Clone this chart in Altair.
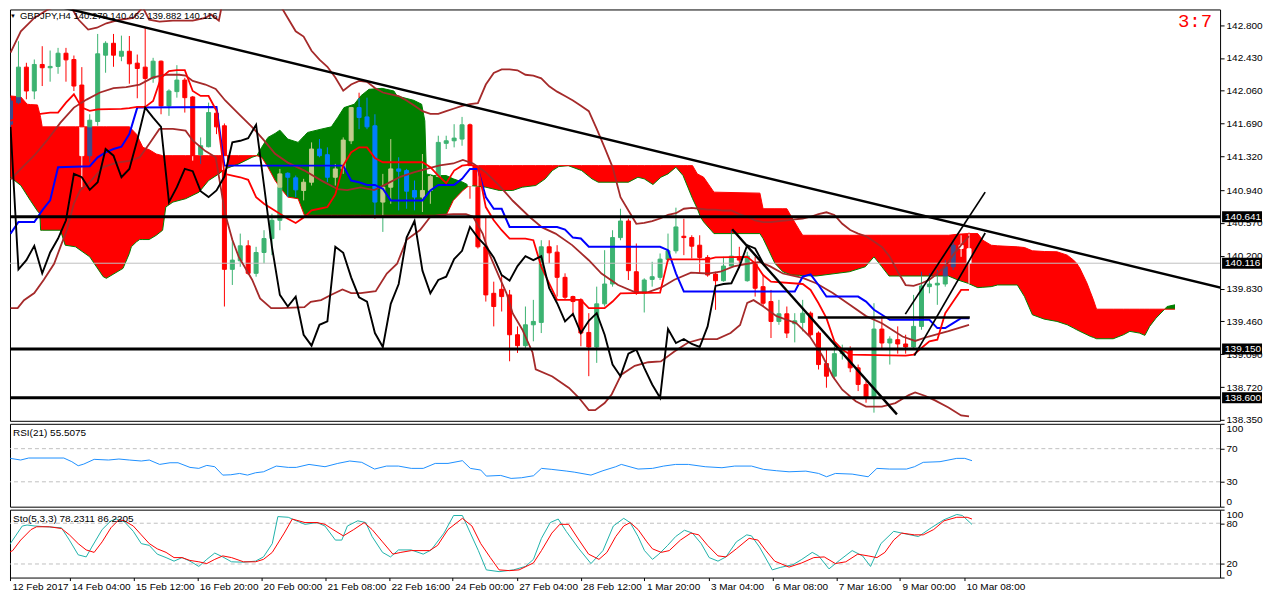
import altair as alt
import numpy as np
import pandas as pd

# ---------------- data ----------------
symbol = "GBPJPY,H4"
ratio_text = "3:7"
date_labels = ["12 Feb 2017", "14 Feb 04:00", "15 Feb 12:00", "16 Feb 20:00", "20 Feb 00:00",
               "21 Feb 08:00", "22 Feb 16:00", "24 Feb 00:00", "27 Feb 04:00", "28 Feb 12:00",
               "1 Mar 20:00", "3 Mar 04:00", "6 Mar 08:00", "7 Mar 16:00", "9 Mar 00:00", "10 Mar 08:00"]
price_ticks = [138.35, 138.72, 139.09, 139.46, 139.83, 140.20, 140.57, 140.94,
               141.32, 141.69, 142.06, 142.43, 142.80]
rsi_ticks = [0, 30, 70, 100]
rsi_levels = [30, 70]
sto_ticks = [0, 20, 80, 100]
sto_levels = [20, 80]
levels = [140.641, 139.150, 138.600]

opens = [141.683,141.926,142.326,142.057,142.356,142.319,142.334,142.483,142.412,142.124,
         141.328,141.713,142.461,142.595,142.449,142.505,142.371,142.326,142.199,142.393,
         141.889,142.050,142.180,141.990,141.339,141.429,141.807,141.665,140.047,140.144,
         140.312,140.002,140.237,140.394,140.600,141.130,141.078,140.936,141.029,141.403,
         141.339,141.085,141.179,141.496,141.870,141.765,141.665,140.805,140.973,141.179,
         141.160,140.936,140.861,140.936,141.093,141.467,141.496,141.515,141.676,140.973,
         140.301,139.777,139.822,139.759,139.310,139.187,139.422,139.449,140.301,140.241,
         139.957,139.740,139.703,139.336,139.172,139.658,139.882,140.405,140.592,140.020,
         139.777,139.934,139.957,140.159,140.256,140.420,140.405,140.319,140.181,139.994,
         139.919,140.084,140.188,139.919,140.114,139.852,139.684,139.460,139.546,139.434,
         139.449,139.553,139.329,138.985,138.843,139.097,139.142,138.937,138.750,138.600,
         139.374,139.217,139.254,139.206,139.172,139.404,139.852,139.871,139.882,140.076,
         140.319,140.279]
highs = [141.982,142.618,142.375,142.412,142.562,142.513,142.543,142.543,142.457,142.326,
         141.795,142.700,142.618,142.700,142.681,142.677,142.468,142.767,142.431,142.401,
         142.076,142.348,142.206,142.001,141.534,141.926,141.878,141.691,140.394,140.450,
         140.375,140.301,140.488,140.674,141.179,141.141,141.104,141.067,141.478,141.515,
         141.422,141.235,141.534,141.878,142.038,141.982,141.795,141.123,141.515,141.310,
         141.179,141.048,141.347,141.123,141.553,141.553,141.683,141.765,141.690,141.216,
         140.637,139.908,139.983,139.815,139.404,139.628,139.703,140.375,140.375,140.319,
         140.002,139.750,139.721,139.553,139.852,140.263,140.488,140.730,140.618,140.338,
         139.946,140.132,140.226,140.450,140.742,140.618,140.431,140.431,140.207,140.020,
         140.188,140.488,140.301,140.245,140.188,139.983,139.815,139.703,139.628,139.553,
         139.703,139.572,139.348,139.142,139.180,139.198,139.180,138.974,138.787,139.665,
         139.516,139.292,139.404,139.310,139.759,140.020,140.002,140.039,140.151,140.375,
         140.431,140.462]
lows = [141.646,141.908,141.964,141.964,142.113,142.162,142.251,142.162,142.057,140.973,
        141.254,141.665,142.263,142.330,142.393,142.139,141.975,141.889,142.150,141.795,
        141.777,141.982,141.814,141.272,141.235,141.422,141.571,139.628,139.871,140.076,
        139.983,139.964,140.114,140.207,140.488,140.861,140.861,140.824,140.992,141.310,
        141.029,140.992,141.123,141.459,141.627,141.627,140.618,140.469,140.786,140.712,
        140.730,140.712,140.693,140.786,141.085,141.403,141.422,141.440,140.843,140.282,
        139.684,139.404,139.572,139.011,139.105,139.142,139.236,139.329,140.114,139.740,
        139.703,139.516,139.180,138.843,138.993,139.628,139.852,140.375,139.927,139.759,
        139.561,139.852,139.927,140.132,140.226,140.207,140.170,140.002,139.964,139.591,
        139.908,140.076,140.114,139.908,139.740,139.628,139.273,139.422,139.273,139.224,
        139.348,139.292,138.918,138.713,138.806,139.030,138.888,138.675,138.544,138.432,
        139.161,138.974,139.097,139.097,139.142,139.366,139.777,139.647,139.852,140.039,
        140.188,139.882]
closes = [141.945,142.326,142.057,142.356,142.319,142.334,142.483,142.408,142.113,141.328,
          141.728,142.476,142.595,142.461,142.505,142.363,142.311,142.199,142.393,141.889,
          142.057,142.180,141.982,141.328,141.440,141.814,141.653,140.047,140.151,140.312,
          140.002,140.237,140.394,140.600,141.123,141.085,140.943,141.029,141.403,141.328,
          141.085,141.179,141.504,141.870,141.758,141.653,140.805,140.973,141.179,141.153,
          140.928,140.861,140.936,141.093,141.478,141.496,141.526,141.676,140.992,140.301,
          139.759,139.628,139.740,139.310,139.187,139.422,139.460,140.301,140.233,139.957,
          139.733,139.684,139.329,139.172,139.658,139.882,140.405,140.592,140.032,139.777,
          139.927,139.964,140.162,140.256,140.525,140.405,140.308,140.181,139.983,139.919,
          140.084,140.196,140.151,140.196,139.834,139.665,139.460,139.546,139.329,139.467,
          139.553,139.310,138.974,138.843,139.097,139.142,138.937,138.750,138.600,139.374,
          139.217,139.262,139.206,139.172,139.404,139.860,139.882,139.890,140.076,140.319,
          140.282,140.116]

# Ichimoku cloud: (bar, senkou A, senkou B)
cloud = [(0,141.085,142.001),(1.3,140.992,141.990),(2.1,140.880,141.908),(2.5,140.824,141.904),
         (3.4,140.704,141.900),(3.7,140.674,141.795),(3.8,140.488,141.758),(4,140.488,141.653),
         (6.3,140.488,141.653),(6.9,140.319,141.653),(8.2,140.301,141.653),(10,140.188,141.653),
         (11.7,139.964,141.653),(12.1,139.946,141.653),(14.2,140.058,141.653),(15,140.226,141.653),
         (15.25,140.301,141.631),(15.9,140.357,141.571),(16.3,140.383,141.496),(16.7,140.383,141.422),
         (17.5,140.383,141.396),(18.4,140.431,141.347),(19.2,140.488,141.328),(19.6,140.749,141.328),
         (20.5,140.805,141.328),(22.1,140.843,141.328),(23.8,140.917,141.328),(25,141.048,141.328),
         (26.3,141.123,141.328),(27.1,141.179,141.328),(28.8,141.235,141.328),(30.5,141.310,141.328),
         (31.1,141.328,141.328),(31.7,141.422,141.310),(32.5,141.534,141.198),(33.4,141.579,141.048),
         (34,141.616,140.973),(35,141.515,140.861),(36.3,141.478,140.843),(37.1,141.553,140.656),
         (37.5,141.590,140.656),(39.2,141.627,140.656),(40.5,141.653,140.656),(41.3,141.758,140.656),
         (42.1,141.870,140.656),(43.4,141.908,140.656),(44.2,142.001,140.656),(45.25,142.076,140.656),
         (46.9,142.087,140.656),(48.4,142.057,140.656),(48.8,142.001,140.656),(50.9,141.952,140.656),
         (51.9,141.908,140.656),(52.3,141.721,140.656),(52.5,141.123,140.656),(53.4,141.104,140.656),
         (55,141.104,140.656),(55.9,141.067,140.824),(57.1,141.029,140.936),(57.9,140.992,140.992),
         (58,140.992,141.216),(60,140.973,141.216),(61.7,140.936,141.216),(63.4,140.936,141.216),
         (64.6,140.973,141.216),(66.3,140.992,141.216),(67.5,141.067,141.216),(68.4,141.160,141.216),
         (69.2,141.205,141.216),(70.4,141.216,141.216),(72.1,141.160,141.216),(73.4,141.067,141.216),
         (74.2,141.029,141.216),(78,141.029,141.216),(79.2,141.085,141.216),(80,141.067,141.216),
         (81.1,141.003,141.216),(82.1,141.085,141.216),(83,141.123,141.216),(84,141.198,141.216),
         (84.9,141.104,141.216),(85.5,140.973,141.216),(86.1,140.843,141.216),(86.7,140.730,141.123),
         (87.1,140.637,141.104),(87.5,140.581,141.085),(88.8,140.450,140.917),(94.6,140.450,140.906),
         (95,140.394,140.730),(95.5,140.301,140.730),(96.5,140.114,140.730),(97.5,140.020,140.730),
         (98,140.002,140.730),(98.6,139.983,140.637),(99.6,139.979,140.488),(100,139.976,140.431),
         (101.7,139.972,140.431),(105.9,140.020,140.431),(107.9,140.076,140.431),(109,140.188,140.431),
         (110,140.076,140.431),(110.9,139.972,140.431),(118.4,139.972,140.431),(119.6,139.927,140.443),
         (120.85,139.890,140.450),(122.1,139.841,140.450),(122.75,139.845,140.375),(123.8,139.852,140.319),
         (124.6,139.871,140.312),(127.1,139.871,140.301),(128,139.740,140.293),(129,139.535,140.256),
         (130.5,139.486,140.248),(132.1,139.460,140.245),(133.4,139.422,140.207),(134.2,139.385,140.151),
         (134.6,139.366,140.114),(135,139.348,140.058),(135.9,139.310,139.890),(136.3,139.292,139.796),
         (136.7,139.280,139.703),(137.1,139.265,139.598),(139.2,139.265,139.598),(140.5,139.310,139.598),
         (141.3,139.348,139.598),(142.5,139.329,139.598),(143.2,139.303,139.598),(143.8,139.404,139.598),
         (144.6,139.497,139.598),(145.7,139.598,139.598),(146,139.628,139.598),(147,139.647,139.598)]

kijun = [(0,140.450),(1,140.581),(3,140.581),(4,140.712),(5,140.824),(6,141.198),(10,141.209),
         (11,141.310),(12,141.366),(13,141.403),(14,141.429),(15,141.571),(16,141.870),(26,141.878),
         (27,141.216),(42,141.216),(43,141.048),(44,141.029),(45,140.999),(46,140.999),(47,140.955),
         (48,140.824),(52,140.824),(53,140.936),(54,140.999),(56,140.999),(57,141.067),(58,141.179),
         (59,141.179),(60,140.861),(61,140.730),(62,140.730),(63,140.525),(69,140.525),(70,140.495),
         (71,140.405),(72,140.394),(73,140.301),(82,140.301),(83,140.263),(84,140.002),(85,139.796),
         (99,139.796),(100,139.964),(101,139.990),(102,139.871),(103,139.740),(107,139.740),
         (108,139.684),(109,139.591),(110,139.535),(111,139.479),(116,139.479),(117,139.385),
         (118,139.385),(119,139.441),(120,139.497),(121,139.497)]

tenkan = [(0,141.721),(1,141.758),(2,141.777),(4,141.803),(5,141.814),(6,141.814),(7,141.926),
          (8,142.020),(9,141.870),(10,141.833),(11,141.851),(14,141.855),(15,141.863),(16,141.878),
          (17,141.878),(18,141.945),(19,142.206),(20,142.281),(21,142.292),(22,142.292),(23,142.057),
          (24,142.001),(25,142.001),(26,141.833),(27,141.123),(28,141.104),(29,141.085),(30,141.056),
          (31,140.861),(32,140.786),(33,140.730),(34,140.674),(35,140.618),(36,140.570),(37,140.630),
          (38,140.712),(39,140.730),(40,140.749),(41,140.891),(42,141.216),(43,141.366),(44,141.422),
          (45,141.422),(46,141.302),(47,141.254),(52,141.254),(53,141.198),(54,141.104),(55,141.018),
          (56,141.160),(57,141.216),(58,141.227),(59,141.198),(60,140.749),(61,140.600),(62,140.488),
          (63,140.394),(65,140.394),(66,140.375),(67,140.076),(68,139.890),(69,139.703),(72,139.703),
          (73,139.609),(75,139.609),(76,139.684),(77,139.777),(82,139.785),(83,140.159),(88,140.159),
          (89,140.181),(93,140.188),(94,140.114),(95,139.983),(96,139.908),(100,139.882),(101,139.815),
          (102,139.665),(103,139.497),(104,139.236),(105,139.142),(106,139.086),(113,139.075),
          (114,139.086),(115,139.161),(116,139.236),(117,139.254),(118,139.553),(119,139.684),
          (120,139.815),(121,139.815)]

bb_upper = [(0,142.49),(1.3,142.73),(3,142.88),(4.6,142.97),(6,143.02),(7.3,143.08),(8,142.95),
            (8.6,142.86),(9.8,142.75),(10.9,142.77),(12.1,142.82),(13.8,142.86),(15.5,142.88),
            (16.7,143.00),(17.5,142.86),(18.8,142.84),(20.5,142.85),(22.1,142.85),(23,142.85),
            (24.6,142.88),(25.3,142.92),(26.3,142.85),(26.7,143.03),(27.5,143.30),(29,143.45),
            (30.5,143.37),(32,143.25),(33,143.12),(34,143.03),(35,142.88),(36,142.73),(37,142.67),
            (38,142.51),(39,142.41),(40,142.33),(41,142.21),(42,142.06),(43,142.13),(44,142.17),
            (45,142.16),(46,142.09),(47,142.04),(48,142.02),(49,142.00),(50,141.95),(51,141.89),
            (52,141.83),(53,141.80),(54,141.80),(55,141.83),(56,141.86),(57,141.89),(58,141.91),
            (59,141.92),(60,142.13),(61,142.26),(62,142.30),(63,142.30),(64,142.29),(65,142.24),
            (66,142.23),(67,142.20),(68,142.11),(69,142.05),(70,142.00),(71,141.95),(72,141.89),
            (73,141.83),(74,141.63),(75,141.42),(76,141.20),(77,140.86),(78,140.71),(79,140.56),
            (80,140.57),(81,140.59),(82,140.62),(83,140.66),(84,140.68),(85,140.73),(86,140.74),
            (87,140.73),(88,140.72),(89,140.72),(90,140.71),(91,140.71),(92,140.67),(93,140.64),
            (94,140.60),(95,140.58),(96,140.58),(97,140.59),(98,140.60),(99,140.61),(100,140.62),
            (101,140.64),(102,140.67),(103,140.69),(104,140.66),(105,140.56),(106,140.49),
            (107,140.45),(108,140.42),(109,140.36),(110,140.30),(111,140.19),(112,140.02),
            (113,139.87),(114,139.86),(115,139.89),(116,139.93),(117,140.00),(118,140.08),
            (119,140.21),(120,140.32),(121,140.42)]
bb_mid = [(0,141.06),(1.3,141.18),(3,141.33),(4.6,141.50),(6.3,141.70),(8,141.87),(9.6,141.96),
          (11.3,142.04),(13,142.09),(14.6,142.10),(16.3,142.13),(18,142.21),(19.6,142.24),
          (21.3,142.24),(22.1,142.23),(23,142.17),(24.6,142.13),(25.9,142.08),(27.1,141.95),
          (28.8,141.80),(30.5,141.65),(32,141.50),(33.4,141.35),(35,141.25),(37.1,141.16),
          (39.2,141.05),(41.3,140.95),(42.5,140.94),(44.2,140.97),(45.9,140.94),(47.5,141.01),
          (49.2,141.09),(50.9,141.14),(52.5,141.18),(54.2,141.22),(55.9,141.24),(57.1,141.28),
          (58.4,141.24),(60,141.14),(61.7,140.99),(63.4,140.82),(65.5,140.64),(67.1,140.52),
          (68.8,140.45),(70.9,140.32),(73,140.15),(74.6,140.00),(76.7,139.87),(78.8,139.79),
          (80.5,139.79),(82.1,139.84),(83.8,139.93),(85.9,140.01),(88,140.00),(89.6,140.02),
          (91.3,140.08),(93,140.11),(94.6,140.13),(95.9,140.08),(97.5,140.00),(100,139.95),
          (101.7,139.89),(103.8,139.78),(105.9,139.65),(108,139.52),(110,139.44),(112.6,139.29),
          (114.2,139.24),(115.9,139.29),(118.4,139.35),(121,139.42)]
bb_lower = [(0,139.61),(0.9,139.61),(1.7,139.70),(3,139.78),(4.2,139.93),(5.5,140.11),(6.3,140.30),
            (7.1,140.49),(8,140.79),(8.8,140.94),(10,141.03),(11.7,141.20),(13.4,141.25),(15,141.27),
            (16.3,141.31),(17.5,141.46),(18.8,141.63),(20.5,141.63),(22.1,141.61),(23,141.50),
            (24.6,141.38),(25.9,141.31),(27.1,140.67),(28,140.38),(28.8,140.19),(30.5,139.93),
            (31.5,139.72),(32.9,139.61),(34.2,139.61),(37.1,139.62),(37.9,139.68),(39.2,139.70),
            (40.5,139.76),(41.9,139.82),(43,139.78),(44.2,139.78),(46.1,139.80),(47.5,140.00),
            (48.8,140.11),(50,140.38),(51.7,140.49),(53,140.64),(54.2,140.66),(55.9,140.67),
            (57.5,140.67),(58.4,140.64),(59.6,140.45),(60.4,140.23),(61.7,139.96),(62.6,139.78),
            (63.4,139.55),(64.6,139.37),(65.9,139.11),(66.3,138.92),(68.4,138.84),(70.5,138.71),
            (71.75,138.60),(73,138.46),(73.8,138.46),(75,138.54),(75.9,138.64),(77.1,138.86),
            (78.8,138.96),(80.5,139.00),(82.1,139.01),(83.8,139.12),(85.5,139.22),(87.1,139.26),
            (89.2,139.26),(90.9,139.33),(92.1,139.42),(93,139.67),(93.8,139.70),(95,139.63),
            (96.7,139.52),(99.2,139.44),(100.9,139.29),(102.5,139.07),(103.8,138.84),(105,138.69),
            (106.7,138.56),(108,138.50),(110,138.50),(111.7,138.54),(113.4,138.63),(114.2,138.66),
            (115.5,138.62),(116.7,138.57),(118.4,138.49),(120,138.40),(121,138.39)]

# drawn objects: (bar, price) end points
trend_lines = [((5.0, 143.032), (153.75, 139.820)),
               ((91.1, 140.499), (111.9, 138.413)),
               ((101.9, 139.504), (121.1, 139.504)),
               ((112.96, 139.542), (123.04, 140.917)),
               ((114.1, 139.075), (123.04, 140.457))]

rsi_bar = [0,0.6,1.9,2.9,7.3,8.3,9.1,9.8,11.1,12.9,14.2,15.5,17.0,18.0,19.3,20.6,21.6,23.1,24.2,25.2,
           26.2,27.2,28.2,29.3,30.3,31.3,32.3,33.9,35.4,36.4,38.0,40.0,41.6,43.1,44.6,46.2,47.7,49.2,
           50.8,52.3,53.8,55.4,57.2,58.2,59.5,60.2,62.0,63.3,64.6,66.1,67.1,68.4,70.2,71.2,73.3,74.8,
           76.4,77.1,79.2,81.0,82.4,83.9,85.5,87.6,89.7,91.3,93.4,94.9,96.5,98.1,100.2,101.8,102.8,
           103.9,106.0,108.0,109.1,110.7,112.8,113.8,114.9,117.0,119.1,120.1,121.0]
rsi_val = [57.1,58.3,56.3,58.7,58.7,54.3,49.4,51.4,57.1,56.3,57.5,56.3,55.1,56.3,51.0,53.0,53.0,47.4,
           46.2,49.8,48.2,38.1,38.5,40.1,38.1,40.9,42.1,49.0,47.4,47.4,51.0,48.2,52.2,55.1,53.5,45.4,
           49.0,49.0,46.2,46.2,52.2,52.2,55.5,46.2,44.2,36.9,37.7,34.1,34.9,37.3,46.2,45.0,43.0,41.7,
           38.1,43.4,48.2,51.0,45.4,46.2,49.0,51.0,51.0,48.2,47.0,49.0,49.0,45.0,43.4,42.1,42.9,40.1,
           36.1,40.1,39.3,36.1,46.2,45.4,45.4,48.2,53.5,54.3,58.3,58.3,55.5075]

sto_k_bar = [0,0.9,2.1,2.7,3.7,7.0,8.0,9.1,10.1,10.8,12.1,13.2,13.9,14.9,16.0,17.0,18.0,19.0,20.1,21.1,
             22.1,23.1,24.2,25.2,26.2,27.2,28.3,29.8,31.3,32.3,33.4,34.1,35.4,36.4,37.5,39.0,40.0,41.3,
             42.1,42.8,44.1,45.1,45.9,47.2,48.2,49.2,50.8,52.3,53.3,54.9,56.1,57.2,58.2,59.2,60.2,61.8,
             63.6,65.1,66.1,67.1,68.2,69.2,70.2,71.8,73.3,74.8,76.1,77.4,78.2,79.2,80.0,81.0,81.8,82.9,
             83.9,85.0,86.0,87.1,88.1,89.2,90.2,91.5,92.8,93.4,94.4,96.0,97.0,98.6,99.7,101.0,101.8,
             103.1,104.4,106.0,107.3,108.3,109.6,111.2,112.2,114.3,115.9,117.5,119.1,119.8,121.0]
sto_k_val = [39.7,55.2,75.9,77.4,75.9,73.3,55.2,33.5,30.4,44.9,70.7,83.6,86.2,82.1,68.1,50.0,47.4,34.5,
             29.4,24.2,29.4,24.2,16.4,26.8,36.1,30.4,23.2,22.6,24.2,30.4,50.0,89.8,88.8,83.6,78.4,81.0,
             75.9,55.2,55.2,75.9,83.6,81.0,60.4,37.1,30.4,40.7,40.7,34.5,40.7,65.5,91.4,91.4,65.5,39.7,
             11.3,8.7,11.3,16.4,26.8,57.8,81.0,86.2,68.1,42.3,20.6,39.7,75.9,87.2,81.0,60.4,39.7,26.8,
             34.5,47.4,60.4,69.7,65.5,50.0,29.4,24.2,30.4,52.6,62.9,61.4,44.9,11.3,14.9,19.0,26.8,37.1,
             31.9,12.8,25.2,39.7,31.9,16.4,50.0,68.1,65.5,60.4,73.3,85.2,92.9,91.4,78.2311]
sto_d_bar = [0,0.9,1.9,3.2,3.9,5.5,7.0,8.0,9.1,10.1,11.1,12.1,13.2,14.2,14.9,16.0,17.0,18.0,19.0,20.1,
             21.1,22.1,23.1,24.2,25.2,26.2,27.2,28.3,29.8,31.3,32.3,33.4,34.9,35.9,37.5,39.0,40.0,41.0,
             42.3,43.6,44.9,45.9,47.2,48.5,49.5,50.8,53.1,54.1,55.4,57.2,58.4,59.5,60.7,61.8,63.1,64.3,
             66.1,67.1,68.4,69.4,70.5,71.8,73.0,74.3,75.3,76.4,77.4,78.2,79.2,80.3,81.0,82.1,83.1,84.5,
             85.8,86.8,87.9,89.2,90.2,91.5,93.1,94.2,95.2,96.3,98.1,99.7,101.2,102.5,103.9,105.2,106.7,
             108.0,109.1,110.1,111.2,112.2,113.8,114.9,116.2,117.5,119.1,120.4,121.0]
sto_d_val = [34.5,39.7,55.2,70.7,74.8,74.8,72.2,62.9,50.0,40.7,37.1,52.6,73.3,85.2,83.6,75.9,62.9,50.0,
             42.3,37.1,29.4,29.4,25.2,23.2,20.6,26.8,31.9,29.4,23.2,23.2,26.8,37.1,65.5,86.2,81.0,81.0,
             78.4,70.7,61.4,70.7,81.0,70.7,52.6,34.5,37.1,39.7,39.7,47.4,70.7,87.2,75.9,50.0,29.4,11.3,
             10.2,11.3,21.6,39.7,65.5,78.4,78.4,55.2,34.5,26.8,37.1,60.4,75.9,81.0,70.7,52.6,42.3,37.1,
             39.7,55.2,65.5,62.9,47.4,31.9,30.4,42.3,57.8,55.2,39.7,24.2,15.4,21.6,29.4,30.4,20.6,23.2,
             34.5,31.9,29.4,37.1,55.2,65.5,62.9,62.9,70.7,83.6,88.8,88.8,86.2205]

# ---------------- layout / styles ----------------
FONT = "Liberation Sans"
W = 1212
X0 = 0.5625
X1 = X0 + W / 8.0
H_MAIN, H_RSI, H_STO = 412, 83, 68
P_LO, P_HI = 138.34, 142.976

xs = alt.Scale(domain=[X0, X1], nice=False, zero=False)
ys = alt.Scale(domain=[P_LO, P_HI], nice=False, zero=False)
rs = alt.Scale(domain=[0, 100], nice=False, zero=False)

AX = dict(labelFontSize=10, labelFont=FONT, labelColor="black", tickColor="black",
          domain=False, grid=False, labelOverlap=False, title=None)
main_axis = alt.Axis(orient="right", values=price_ticks, format=".3f", tickSize=4,
                     labelPadding=2, **AX)
rsi_axis = alt.Axis(orient="right", values=rsi_ticks, tickSize=4, labelPadding=2,
                    labelFlush=True, **AX)
sto_axis = alt.Axis(orient="right", values=sto_ticks, tickSize=4, labelPadding=2,
                    labelFlush=True, **AX)
x_ticks = [X0] + [8 * k for k in range(1, len(date_labels))]
label_expr = "[" + ",".join(f"'{s}'" for s in date_labels) + "][round(datum.value / 8)]"
x_axis = alt.Axis(orient="bottom", values=x_ticks, labelExpr=label_expr, labelAlign="left",
                  labelOffset=2, tickSize=3, labelPadding=1, labelFlush=False, **AX)


def X(field="bar", axis=None):
    return alt.X(f"{field}:Q", scale=xs, axis=axis, title=None)


def YM(field):
    return alt.Y(f"{field}:Q", scale=ys, axis=main_axis, title=None)


def vline(points, color, width):
    df = pd.DataFrame(points, columns=["bar", "v"])
    return alt.Chart(df).mark_line(color=color, strokeWidth=width, clip=True).encode(
        x=X(), y=YM("v"))


# cloud
cl = pd.DataFrame(cloud, columns=["bar", "a", "b"])
cl["red_lo"] = np.where(cl.b > cl.a, cl.a, cl.b)
cl["green_lo"] = np.where(cl.a > cl.b, cl.b, cl.a)
red_area = alt.Chart(cl).mark_area(color="#ff0000", clip=True).encode(
    x=X(), y=YM("b"), y2=alt.Y2("red_lo"))
green_area = alt.Chart(cl).mark_area(color="#008000", clip=True).encode(
    x=X(), y=YM("a"), y2=alt.Y2("green_lo"))
span_a = alt.Chart(cl).mark_line(color="#008000", strokeWidth=1, clip=True).encode(x=X(), y=YM("a"))
span_b = alt.Chart(cl).mark_line(color="#ff0000", strokeWidth=1, clip=True).encode(x=X(), y=YM("b"))

# candles (colours inverted where they sit inside the cloud, as on the terminal)
cb = np.array([c[0] for c in cloud])
ca = np.array([c[1] for c in cloud])
cbv = np.array([c[2] for c in cloud])


def split(lo, hi, clo, chi, out_col, in_col):
    if hi - lo < 1e-9:
        return [(lo, hi, in_col if (clo <= lo <= chi and chi > clo) else out_col)]
    segs = []
    if lo < clo:
        segs.append((lo, min(hi, clo), out_col))
    m_lo, m_hi = max(lo, clo), min(hi, chi)
    if m_hi > m_lo:
        segs.append((m_lo, m_hi, in_col))
    if hi > chi:
        segs.append((max(lo, chi), hi, out_col))
    return segs


rows = []
for i, (o, h, l, c) in enumerate(zip(opens, highs, lows, closes)):
    a = float(np.interp(i, cb, ca))
    b = float(np.interp(i, cb, cbv))
    clo, chi = min(a, b), max(a, b)
    red_cloud = b > a
    if c >= o:
        out_col = "#3cb371"
        in_col = "#3c4c8e" if red_cloud else "#c3cc8e"
    else:
        out_col = "#ff0000"
        in_col = "#ffffff" if red_cloud else "#007fff"
    for kind, lo, hi in (("wick", l, h), ("body", min(o, c), max(o, c))):
        for s_lo, s_hi, col in split(lo, hi, clo, chi, out_col, in_col):
            rows.append(dict(bar=i, lo=s_lo, hi=s_hi, col=col, kind=kind))
cdf = pd.DataFrame(rows)
wicks = alt.Chart(cdf[cdf.kind == "wick"]).mark_rule(strokeWidth=1, clip=True).encode(
    x=X(), y=YM("lo"), y2=alt.Y2("hi"), color=alt.Color("col:N", scale=None))
bodies = alt.Chart(cdf[cdf.kind == "body"]).mark_bar(size=4, strokeWidth=1, clip=True).encode(
    x=X(), y=YM("lo"), y2=alt.Y2("hi"), color=alt.Color("col:N", scale=None),
    stroke=alt.Stroke("col:N", scale=None))

chikou = [(i, closes[i + 26]) for i in range(len(closes) - 26)]

cur = pd.DataFrame({"p": [closes[-1]]})
cur_line = alt.Chart(cur).mark_rule(color="#c0c0c0", strokeWidth=1).encode(y=YM("p"))
lv = pd.DataFrame({"p": levels})
level_lines = alt.Chart(lv).mark_rule(color="black", strokeWidth=3).encode(y=YM("p"))

tl_rows = []
for k, (p1, p2) in enumerate(trend_lines):
    tl_rows.append(dict(id=k, bar=p1[0], v=p1[1]))
    tl_rows.append(dict(id=k, bar=p2[0], v=p2[1]))
tl = pd.DataFrame(tl_rows)
trend_main = alt.Chart(tl[tl.id <= 2]).mark_line(color="black", strokeWidth=2.4, clip=True).encode(
    x=X(), y=YM("v"), detail="id:N")
trend_chan = alt.Chart(tl[tl.id > 2]).mark_line(color="black", strokeWidth=1.7, clip=True).encode(
    x=X(), y=YM("v"), detail="id:N")

box_prices = levels + [closes[-1]]
bx = pd.DataFrame({"p": box_prices, "t": [f"{p:.3f}" for p in box_prices]})
boxes = alt.Chart(bx).mark_rule(color="black", strokeWidth=11, strokeCap="butt").encode(
    y=YM("p"), x=alt.value(W + 2), x2=alt.value(W + 42))
box_txt = alt.Chart(bx).mark_text(color="white", align="left", baseline="middle", font=FONT,
                                  fontSize=10).encode(y=YM("p"), x=alt.value(W + 5), text="t:N")

info = pd.DataFrame({"t": [f"{symbol} {opens[-1]:.3f} {highs[-1]:.3f} {lows[-1]:.3f} {closes[-1]:.3f}"]})
title_txt = alt.Chart(info).mark_text(align="left", baseline="top", font=FONT, fontSize=9.5,
                                      color="black").encode(x=alt.value(10), y=alt.value(2), text="t:N")
tri = alt.Chart(pd.DataFrame({"t": ["▼"]})).mark_text(align="left", baseline="top", fontSize=6,
                                                       color="black").encode(
    x=alt.value(0), y=alt.value(4), text="t:N")
ratio = alt.Chart(pd.DataFrame({"t": [ratio_text]})).mark_text(
    align="right", baseline="top", font="Liberation Mono", fontSize=19, color="#ff0000").encode(
    x=alt.value(W - 8), y=alt.value(3), text="t:N")

main = alt.layer(
    red_area, green_area, span_a, span_b, wicks, bodies, cur_line,
    vline(bb_upper, "#a52a2a", 1.8), vline(bb_mid, "#a52a2a", 1.8), vline(bb_lower, "#a52a2a", 1.8),
    vline(kijun, "#0000ff", 2), vline(tenkan, "#ff0000", 1.8), vline(chikou, "black", 1.9),
    level_lines, trend_main, trend_chan, boxes, box_txt, title_txt, tri, ratio
).properties(width=W, height=H_MAIN)

# RSI panel
rsi_lv = alt.Chart(pd.DataFrame({"v": rsi_levels})).mark_rule(
    color="#c0c0c0", strokeDash=[4, 3], strokeWidth=1).encode(
    y=alt.Y("v:Q", scale=rs, axis=rsi_axis, title=None))
rsi_line = alt.Chart(pd.DataFrame({"bar": rsi_bar, "v": rsi_val})).mark_line(
    color="#1e90ff", strokeWidth=1, clip=True).encode(
    x=X(), y=alt.Y("v:Q", scale=rs, axis=rsi_axis, title=None))
rsi_txt = alt.Chart(pd.DataFrame({"t": [f"RSI(21) {rsi_val[-1]:.4f}"]})).mark_text(
    align="left", baseline="middle", font=FONT, fontSize=10, color="black").encode(
    x=alt.value(3), y=alt.value(9), text="t:N")
rsi = alt.layer(rsi_lv, rsi_line, rsi_txt).properties(width=W, height=H_RSI)

# Stochastic panel
sto_lv = alt.Chart(pd.DataFrame({"v": sto_levels})).mark_rule(
    color="#c0c0c0", strokeDash=[4, 3], strokeWidth=1).encode(
    y=alt.Y("v:Q", scale=rs, axis=sto_axis, title=None))
sto_k = alt.Chart(pd.DataFrame({"bar": sto_k_bar, "v": sto_k_val})).mark_line(
    color="#20b2aa", strokeWidth=1, clip=True).encode(
    x=X(axis=x_axis), y=alt.Y("v:Q", scale=rs, axis=sto_axis, title=None))
sto_d = alt.Chart(pd.DataFrame({"bar": sto_d_bar, "v": sto_d_val})).mark_line(
    color="#ff0000", strokeWidth=1, clip=True).encode(
    x=X(axis=x_axis), y=alt.Y("v:Q", scale=rs, axis=sto_axis, title=None))
sto_txt = alt.Chart(pd.DataFrame({"t": [f"Sto(5,3,3) {sto_k_val[-1]:.4f} {sto_d_val[-1]:.4f}"]})).mark_text(
    align="left", baseline="middle", font=FONT, fontSize=10, color="black").encode(
    x=alt.value(3), y=alt.value(9), text="t:N")
sto = alt.layer(sto_lv, sto_k, sto_d, sto_txt).properties(width=W, height=H_STO)

chart = alt.vconcat(main, rsi, sto, spacing=3, bounds="flush").properties(
    padding=0, background="white"
).configure_view(stroke="black", strokeWidth=1)

chart.save("out.html", embed_options={"renderer": "svg", "actions": False})
